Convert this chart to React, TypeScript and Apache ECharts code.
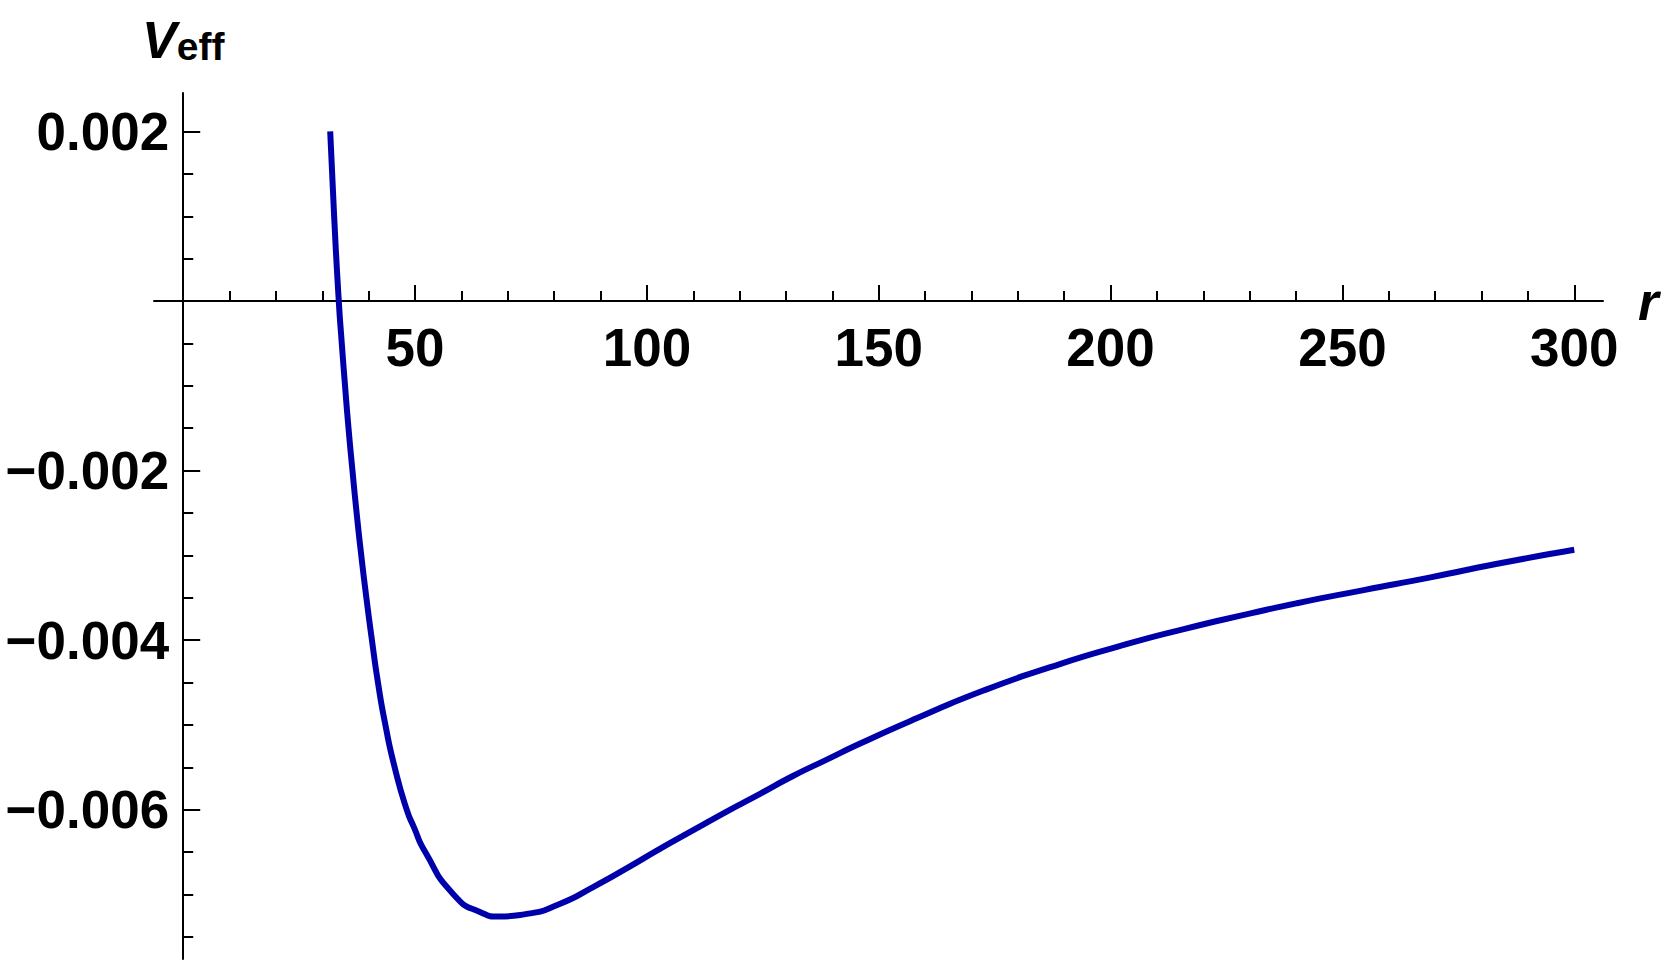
import React, { useEffect, useRef } from 'react';
import * as echarts from 'echarts';

// Curve samples (r, V_eff)
const rValues = [31.7, 32.55, 33.55, 34.2, 34.9, 35.65, 36.5, 37.4, 38.4, 39.5, 40.7, 42.0, 43.6, 45.6, 48.2, 49.7, 52.2, 58.3, 64.1, 68.0, 74.1, 81.3, 88.5, 95.7, 102.9, 110.1, 117.3, 124.5, 131.6, 138.8, 146.0, 158.3, 172.6, 187.0, 201.4, 215.8, 230.2, 240.2, 254.6, 269.0, 283.4, 300];
const vValues = [0.002, 0.001, 0, -0.0005, -0.001, -0.0015, -0.002, -0.0025, -0.003, -0.0035, -0.004, -0.0045, -0.005, -0.0055, -0.006, -0.0062, -0.0065, -0.007, -0.00721, -0.00726, -0.00723, -0.00711, -0.00691, -0.00669, -0.00646, -0.00624, -0.00602, -0.00581, -0.0056, -0.00541, -0.00522, -0.00492, -0.004595, -0.00432, -0.00408, -0.00387, -0.003685, -0.003565, -0.00341, -0.00326, -0.0031, -0.002935];

const xMajorTicks = [50, 100, 150, 200, 250, 300];
const xMinorTicks = [10, 20, 30, 40, 60, 70, 80, 90, 110, 120, 130, 140, 160, 170, 180, 190, 210, 220, 230, 240, 260, 270, 280, 290];
const yMajorTicks = [0.002, -0.002, -0.004, -0.006];
const yMajorLabels = ['0.002', '−0.002', '−0.004', '−0.006'];
const yMinorTicks = [0.0015, 0.001, 0.0005, -0.0005, -0.001, -0.0015, -0.0025, -0.003, -0.0035, -0.0045, -0.005, -0.0055, -0.0065, -0.007, -0.0075];
const xRange = [-6.3, 306.2];
const yRange = [-0.007762, 0.002454];

const FONT = "'Liberation Sans', Arial, Helvetica, sans-serif";
const WIDTH = 1661;
const HEIGHT = 963;
const GRID = { left: 154, right: 58, top: 93, bottom: 4 };

export default function App() {
  const ref = useRef<HTMLDivElement>(null);
  useEffect(() => {
    if (!ref.current) return;
    const chart = echarts.init(ref.current, null, { renderer: 'svg' });
    const axisColor = '#000';
    const data = rValues.map((r, i) => [r, vValues[i]]);
    const gridW = WIDTH - GRID.left - GRID.right;
    const gridH = HEIGHT - GRID.top - GRID.bottom;
    // place the axes where the other axis is zero (axes cross at the origin)
    const xAxisOffset = -gridH * (0 - yRange[0]) / (yRange[1] - yRange[0]);
    const yAxisOffset = -gridW * (0 - xRange[0]) / (xRange[1] - xRange[0]);
    chart.setOption({
      animation: false,
      backgroundColor: '#fff',
      grid: { ...GRID, containLabel: false, outerBoundsMode: 'none' },
      xAxis: [
        {
          type: 'value',
          position: 'bottom',
          offset: xAxisOffset,
          min: xRange[0],
          max: xRange[1],
          axisLine: { show: true, onZero: false, lineStyle: { color: axisColor, width: 2 } },
          axisTick: { show: true, inside: true, length: 16, customValues: xMajorTicks, lineStyle: { color: axisColor, width: 2 } },
          axisLabel: {
            show: true,
            customValues: xMajorTicks,
            margin: 20,
            color: '#000',
            fontFamily: FONT,
            fontWeight: 'bold',
            fontSize: 53,
          },
          splitLine: { show: false },
          name: 'r',
          nameLocation: 'end',
          nameGap: 35,
          nameTextStyle: { fontFamily: FONT, fontWeight: 'bold', fontStyle: 'italic', fontSize: 53, color: '#000' },
        },
        {
          type: 'value',
          position: 'bottom',
          offset: xAxisOffset,
          min: xRange[0],
          max: xRange[1],
          axisLine: { show: false, onZero: false },
          axisTick: { show: true, inside: true, length: 10, customValues: xMinorTicks, lineStyle: { color: axisColor, width: 2 } },
          axisLabel: { show: false },
          splitLine: { show: false },
        },
      ],
      yAxis: [
        {
          type: 'value',
          position: 'left',
          offset: yAxisOffset,
          min: yRange[0],
          max: yRange[1],
          axisLine: { show: true, onZero: false, lineStyle: { color: axisColor, width: 2 } },
          axisTick: { show: true, inside: true, length: 17, customValues: yMajorTicks, lineStyle: { color: axisColor, width: 2 } },
          axisLabel: {
            show: true,
            customValues: yMajorTicks,
            margin: 14,
            color: '#000',
            fontFamily: FONT,
            fontWeight: 'bold',
            fontSize: 53,
            formatter: (v: number) => {
              const i = yMajorTicks.findIndex((t) => Math.abs(t - v) < 1e-9);
              return i >= 0 ? yMajorLabels[i] : '';
            },
          },
          splitLine: { show: false },
          name: '{v|V}{e|eff}',
          nameLocation: 'end',
          nameGap: 27,
          nameTextStyle: {
            rich: {
              v: { fontFamily: FONT, fontWeight: 'bold', fontStyle: 'italic', fontSize: 52, color: '#000', lineHeight: 60, verticalAlign: 'bottom' },
              e: { fontFamily: FONT, fontWeight: 'bold', fontSize: 39, color: '#000', lineHeight: 33, verticalAlign: 'bottom' },
            },
          },
        },
        {
          type: 'value',
          position: 'left',
          offset: yAxisOffset,
          min: yRange[0],
          max: yRange[1],
          axisLine: { show: false, onZero: false },
          axisTick: { show: true, inside: true, length: 10, customValues: yMinorTicks, lineStyle: { color: axisColor, width: 2 } },
          axisLabel: { show: false },
          splitLine: { show: false },
        },
      ],
      series: [
        {
          type: 'line',
          xAxisIndex: 0,
          yAxisIndex: 0,
          data,
          showSymbol: false,
          smooth: 0.6,
          lineStyle: { color: '#0000aa', width: 6, cap: 'butt' },
          silent: true,
        },
      ],
    });
    return () => chart.dispose();
  }, []);
  return (
    <div
      ref={ref}
      style={{ position: 'fixed', left: 0, top: 0, width: WIDTH, height: HEIGHT, background: '#fff' }}
    />
  );
}
